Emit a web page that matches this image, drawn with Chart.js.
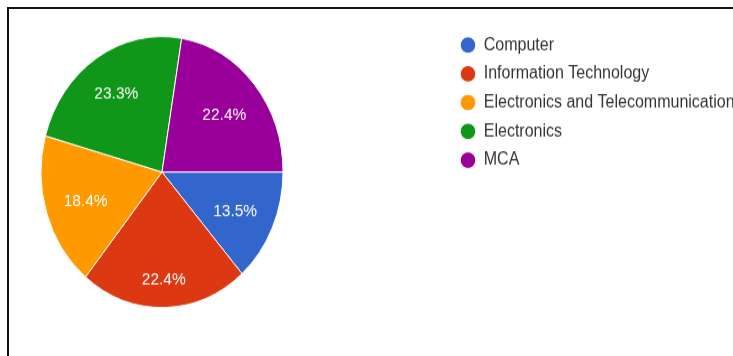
<!DOCTYPE html>
<html>
<head>
<meta charset="utf-8">
<script src="https://cdn.jsdelivr.net/npm/chart.js@4.4.0/dist/chart.umd.min.js"></script>
<style>
    html, body { margin: 0; padding: 0; background: #fff; overflow: hidden; }
    #page { position: relative; width: 733px; height: 356px; overflow: hidden; }
    #stretch { position: absolute; left: 0; top: 0; transform: scale(1, 1.12); transform-origin: 0 0; }
    #frame { position: absolute; left: 7px; top: 7px; width: 800px; height: 400px;
             border-top: 2px solid #111; border-left: 2px solid #111; }
</style>
</head>
<body>
<div id="page">
    <div id="stretch"><canvas id="departments" width="733" height="318"></canvas></div>
    <div id="frame"></div>
</div>
<script>
const departments = ["Computer", "Information Technology", "Electronics and Telecommunication", "Electronics", "MCA"];
const shares = [13.5, 22.4, 18.4, 23.3, 22.4];
const colors = ["#3366cc", "#dc3912", "#ff9900", "#109618", "#990099"];

const font = '"Liberation Sans", Arial, sans-serif';

// keep the pie area square on the left, the legend sits further right
const squareArea = {
    id: 'squareArea',
    afterLayout(chart) {
        const a = chart.chartArea;
        a.right = a.left + (a.bottom - a.top);
        a.width = a.right - a.left;
    }
};

// percentage written inside each slice: pushed out along the mid angle
// until the far corner of the text box reaches 85% of the radius
const pctLabels = {
    id: 'pctLabels',
    afterDatasetsDraw(chart) {
        const ctx = chart.ctx;
        const meta = chart.getDatasetMeta(0);
        const total = shares.reduce((a, b) => a + b, 0);
        ctx.save();
        ctx.font = '15.5px ' + font;
        ctx.fillStyle = '#fff';
        ctx.textAlign = 'center';
        ctx.textBaseline = 'middle';
        meta.data.forEach((arc, i) => {
            const p = arc.getProps(['x', 'y', 'startAngle', 'endAngle', 'outerRadius'], true);
            const mid = (p.startAngle + p.endAngle) / 2;
            const text = (shares[i] / total * 100).toFixed(1) + '%';
            const hw = ctx.measureText(text).width / 2, hh = 6;
            const lim = p.outerRadius * 0.85;
            const b = hw * Math.abs(Math.cos(mid)) + hh * Math.abs(Math.sin(mid));
            const r = -b + Math.sqrt(b * b - (hw * hw + hh * hh - lim * lim));
            // +2: digits sit a little above the em-box middle
            ctx.fillText(text, p.x + Math.cos(mid) * r, p.y + Math.sin(mid) * r + 2);
        });
        ctx.restore();
    }
};

new Chart(
    document.getElementById('departments'),
    {
        type: 'pie',
        plugins: [squareArea, pctLabels],
        options: {
            responsive: false,
            animation: false,
            rotation: 90,
            radius: 121,
            layout: {
                padding: { left: 30.9, right: 0, top: 22.5, bottom: 33.3 }
            },
            plugins: {
                legend: {
                    display: true,
                    position: 'right',
                    align: 'start',
                    maxWidth: 282.45,
                    labels: {
                        usePointStyle: true,
                        pointStyle: 'circle',
                        boxHeight: 10.5,
                        pointStyleWidth: 15.5,
                        padding: 9.7,
                        color: '#333',
                        font: { family: font, size: 16 }
                    }
                },
                tooltip: {
                    enabled: false
                }
            },
            events: []
        },
        data: {
            labels: departments,
            datasets: [
                {
                    data: shares,
                    backgroundColor: colors,
                    borderColor: '#fff',
                    borderWidth: 1
                }
            ]
        }
    }
);
</script>
</body>
</html>
